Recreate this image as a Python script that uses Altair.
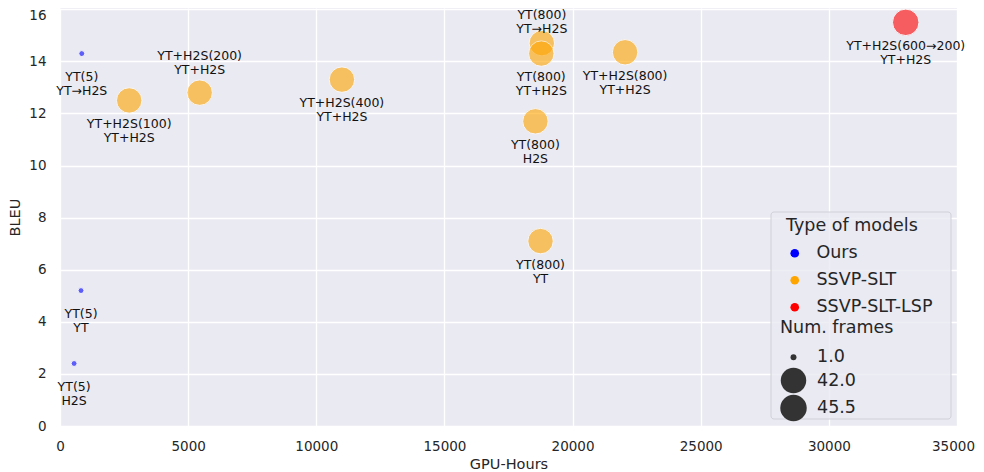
import altair as alt
import pandas as pd

labels = ["YT(5)\nYT→H2S", "YT(5)\nYT", "YT(5)\nH2S",
          "YT+H2S(100)\nYT+H2S", "YT+H2S(200)\nYT+H2S", "YT+H2S(400)\nYT+H2S",
          "YT(800)\nYT→H2S", "YT(800)\nYT+H2S", "YT(800)\nH2S", "YT(800)\nYT",
          "YT+H2S(800)\nYT+H2S", "YT+H2S(600→200)\nYT+H2S"]
gpu_hours = [850, 820, 550, 2700, 5450, 11000, 18800, 18780, 18550, 18750, 22050, 33000]
bleu = [14.3, 5.2, 2.4, 12.5, 12.8, 13.3, 14.7, 14.3, 11.7, 7.1, 14.35, 15.5]
model_type = ["Ours"] * 3 + ["SSVP-SLT"] * 8 + ["SSVP-SLT-LSP"]
num_frames = [1.0] * 3 + [42.0] * 8 + [45.5]
label_pos = ["below", "below", "below", "below", "above", "below",
             "above_top", "below", "below", "below", "below", "below"]

type_domain = ["Ours", "SSVP-SLT", "SSVP-SLT-LSP"]
type_colors = ["#0000ff", "#ffa500", "#ff0000"]
x_ticks = [0, 5000, 10000, 15000, 20000, 25000, 30000, 35000]
y_ticks = [0, 2, 4, 6, 8, 10, 12, 14, 16]
size_legend_values = [1.0, 42.0, 45.5]

df = pd.DataFrame({
    "label": labels, "gpu": gpu_hours, "bleu": bleu,
    "type": model_type, "frames": num_frames, "pos": label_pos,
})

FONT = "DejaVu Sans"

x_enc = alt.X("gpu:Q", title="GPU-Hours",
              scale=alt.Scale(domain=[0, 35000], nice=False, zero=False),
              axis=alt.Axis(values=x_ticks, format="d", labelPadding=13, titlePadding=5,
                            labelFlush=False,
                            labelOffset={"condition": {"test": "datum.value === 35000", "value": -4},
                                         "value": 0}))
y_enc = alt.Y("bleu:Q", title="BLEU",
              scale=alt.Scale(domain=[0, 16.05], nice=False, zero=False),
              axis=alt.Axis(values=y_ticks, format="d", labelPadding=14, titlePadding=6,
                            labelFlush=False,
                            labelBaseline={"condition": {"test": "datum.value === 16", "value": "top"},
                                           "value": "middle"},
                            labelOffset={"condition": {"test": "datum.value === 16", "value": -1},
                                         "value": 0}))

base = alt.Chart(df)

points = base.mark_circle(opacity=0.6, stroke="white", strokeWidth=1).encode(
    x=x_enc, y=y_enc,
    color=alt.Color("type:N", scale=alt.Scale(domain=type_domain, range=type_colors),
                    legend=alt.Legend(title="Type of models", orient="none", direction="vertical",
                                      legendX=726, legendY=209, titleFontSize=17.5,
                                      labelFontSize=17.5, titleFontWeight="normal",
                                      symbolSize=75, symbolOpacity=1, symbolStrokeWidth=0,
                                      labelOffset=13, rowPadding=8, titlePadding=10)),
    size=alt.Size("frames:Q", scale=alt.Scale(domain=[1, 45.5], range=[35, 700], zero=False),
                  legend=alt.Legend(title="Num. frames", values=size_legend_values, format=".1f",
                                    orient="none", direction="vertical", legendX=720, legendY=311,
                                    titleFontSize=17.5, labelFontSize=17.5,
                                    titleFontWeight="normal", symbolFillColor="#333333",
                                    symbolOpacity=1, symbolStrokeWidth=0, labelOffset=10,
                                    rowPadding=1, titlePadding=12)),
    order=alt.Order("frames:Q"),
)

text_style = dict(fontSize=12.5, lineHeight=14, font=FONT, color="#111111",
                  lineBreak="\n", align="center")

text_below = base.transform_filter(alt.datum.pos == "below").mark_text(
    baseline="top", dy=17.5, **text_style).encode(x="gpu:Q", y="bleu:Q", text="label:N")

text_above = base.transform_filter(alt.datum.pos == "above").mark_text(
    baseline="bottom", dy=-30, **text_style).encode(x="gpu:Q", y="bleu:Q", text="label:N")

text_above_top = base.transform_filter(alt.datum.pos == "above_top").mark_text(
    baseline="bottom", dy=-21, **text_style).encode(x="gpu:Q", y="bleu:Q", text="label:N")

legend_box = alt.Chart(pd.DataFrame({"k": [0]})).mark_rect(
    fill="#EAEAF2", fillOpacity=0.8, stroke="#d0d0d8", strokeWidth=1, cornerRadius=3
).encode(x=alt.value(711), x2=alt.value(891), y=alt.value(204), y2=alt.value(411))

chart = alt.layer(points, text_below, text_above, text_above_top, legend_box).properties(
    width=897, height=418,
    autosize=alt.AutoSizeParams(type="none"),
    padding={"left": 52, "top": 0, "right": 19, "bottom": 46},
).configure(font=FONT).configure_view(
    fill="#EAEAF2", stroke=None
).configure_axis(
    grid=True, gridColor="white", gridWidth=1.3, domain=False, ticks=False, tickSize=0,
    labelFont=FONT, labelFontSize=13.5, labelColor="#262626",
    titleFont=FONT, titleFontSize=14.5, titleFontWeight="normal", titleColor="#262626",
).configure_legend(
    labelFont=FONT, titleFont=FONT, labelColor="#262626", titleColor="#262626",
)

chart.save("out.html", embed_options={"renderer": "svg", "actions": False})
